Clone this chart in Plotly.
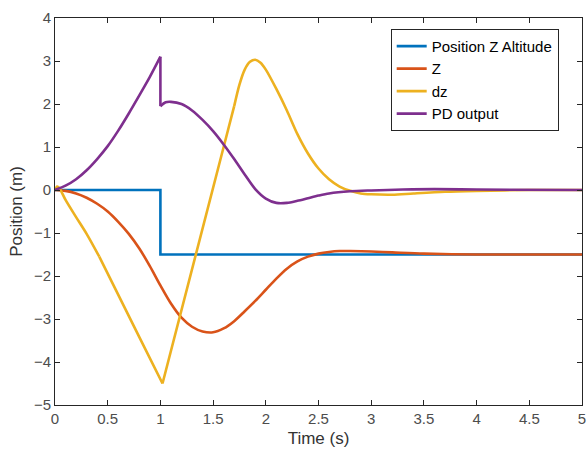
import plotly.graph_objects as go

# ---- data ----
t_ref = [0, 1, 1, 5]
z_ref = [0, 0, -1.5, -1.5]

t_z = [0, 0.1, 0.2, 0.3, 0.4, 0.5, 0.6, 0.7, 0.8, 0.9, 1.0, 1.1, 1.2, 1.3, 1.4, 1.5,
       1.6, 1.7, 1.8, 1.9, 2.0, 2.1, 2.2, 2.3, 2.4, 2.5, 2.6, 2.7, 2.8, 3.0, 3.2,
       3.5, 4.0, 4.5, 5.0]
z = [0, -0.02, -0.08, -0.18, -0.32, -0.5, -0.74, -1.02, -1.36, -1.77, -2.22, -2.64,
     -2.97, -3.18, -3.29, -3.31, -3.22, -3.05, -2.82, -2.58, -2.32, -2.06, -1.83, -1.66,
     -1.55, -1.48, -1.44, -1.42, -1.42, -1.43, -1.45, -1.48, -1.5, -1.5, -1.5]

t_dz = [0, 0.02, 0.04, 0.1, 0.2, 0.3, 0.42, 0.6, 0.8, 1.02, 1.1, 1.2, 1.3, 1.4, 1.5,
        1.6, 1.7, 1.75, 1.8, 1.85, 1.9, 1.95, 2.0, 2.1, 2.2, 2.3, 2.4, 2.5, 2.6, 2.7,
        2.8, 2.9, 3.0, 3.2, 3.4, 3.7, 4.0, 4.5, 5.0]
dz = [0, 0.08, 0.05, -0.23, -0.63, -1.02, -1.55, -2.45, -3.42, -4.5, -3.75, -2.8,
      -1.85, -0.9, 0.05, 1.0, 1.95, 2.45, 2.8, 2.98, 3.03, 2.96, 2.8, 2.35, 1.85,
      1.3, 0.85, 0.5, 0.25, 0.08, -0.02, -0.08, -0.1, -0.11, -0.08, -0.04, -0.02, 0, 0]

t_pd = [0, 0.1, 0.2, 0.3, 0.4, 0.5, 0.6, 0.7, 0.8, 0.9, 1.0, 1.0, 1.05, 1.1, 1.2,
        1.3, 1.4, 1.5, 1.6, 1.7, 1.8, 1.9, 2.0, 2.1, 2.2, 2.3, 2.4, 2.5, 2.6, 2.8,
        3.0, 3.3, 3.6, 4.0, 5.0]
pd_out = [0, 0.1, 0.25, 0.46, 0.72, 1.02, 1.38, 1.78, 2.2, 2.63, 3.1, 1.95, 2.04,
          2.05, 2.0, 1.85, 1.63, 1.37, 1.06, 0.72, 0.36, 0.02, -0.2, -0.3, -0.3, -0.25,
          -0.19, -0.13, -0.08, -0.03, -0.01, 0.01, 0.02, 0.01, 0.0]

x_ticks = [0, 0.5, 1, 1.5, 2, 2.5, 3, 3.5, 4, 4.5, 5]
x_tick_text = ["0", "0.5", "1", "1.5", "2", "2.5", "3", "3.5", "4", "4.5", "5"]
y_ticks = [-5, -4, -3, -2, -1, 0, 1, 2, 3, 4]

names = ["Position Z Altitude", "Z", "dz", "PD output"]
colors = ["#0072BD", "#D95319", "#EDB120", "#7E2F8E"]


def segments(tx, yv, cuts):
    """Split a series at given indices (inclusive overlaps) into pieces."""
    return [(tx[a:b + 1], yv[a:b + 1], shape) for a, b, shape in cuts]


series = [
    (names[0], colors[0], segments(t_ref, z_ref, [(0, 3, "linear")])),
    (names[1], colors[1], segments(t_z, z, [(0, len(z) - 1, "spline")])),
    (names[2], colors[2], segments(t_dz, dz, [(0, 6, "spline"), (6, 9, "linear"),
                                              (9, 16, "linear"), (16, len(dz) - 1, "spline")])),
    (names[3], colors[3], segments(t_pd, pd_out, [(0, 10, "spline"), (10, 11, "linear"),
                                                  (11, len(pd_out) - 1, "spline")])),
]

fig = go.Figure()
for nm, c, segs in series:
    for i, (sx, sy, shape) in enumerate(segs):
        fig.add_trace(go.Scatter(x=sx, y=sy, mode="lines", name=nm, legendgroup=nm,
                                 showlegend=(i == 0),
                                 line=dict(color=c, width=2.6, shape=shape, smoothing=0.8)))

axis_common = dict(showgrid=False, zeroline=False, showline=True, mirror="ticks",
                   linecolor="#262626", linewidth=1, ticks="inside", ticklen=5,
                   tickcolor="#262626", ticklabeloverflow="allow", automargin=False,
                   tickfont=dict(size=15, color="#4d4d4d"))

fig.update_layout(
    width=587, height=453,
    margin=dict(l=55, r=5, t=18, b=48),
    paper_bgcolor="white", plot_bgcolor="white",
    font=dict(family="Liberation Sans, Arial, sans-serif", color="#333333"),
    xaxis=dict(range=[0, 5], tickmode="array", tickvals=x_ticks, ticktext=x_tick_text,
               title=dict(text="Time (s)", font=dict(size=17), standoff=6),
               **axis_common),
    yaxis=dict(range=[-5, 4], tickmode="array", tickvals=y_ticks,
               title=dict(text="Position (m)", font=dict(size=17), standoff=6),
               **axis_common),
    legend=dict(x=0.637, y=0.972, xanchor="left", yanchor="top",
                bgcolor="white", bordercolor="#262626", borderwidth=1,
                font=dict(size=15, color="black"), tracegroupgap=0,
                itemwidth=30),
    showlegend=True,
)

fig.write_html("out.html")
